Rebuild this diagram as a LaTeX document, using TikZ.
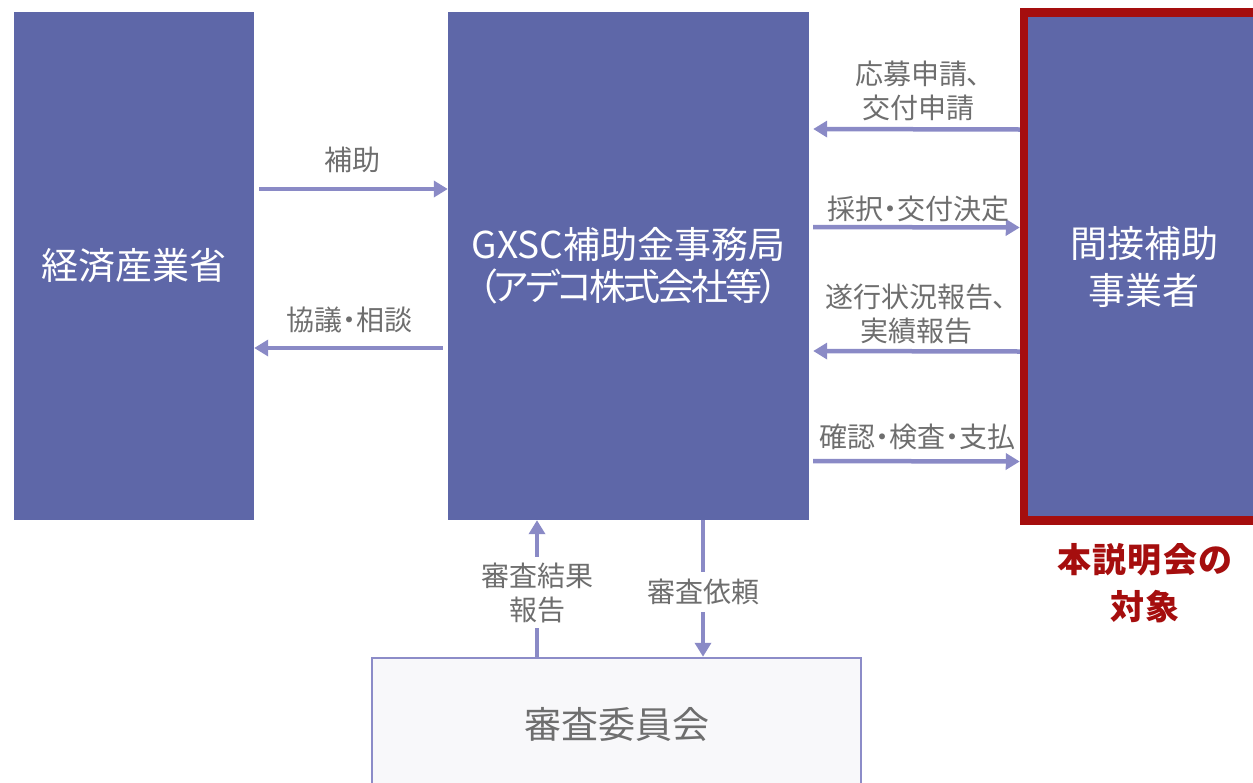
\documentclass[tikz,border=0pt]{standalone}
\usepackage{fontspec}
\setmainfont{Noto Sans CJK JP}
\usetikzlibrary{arrows.meta}
\definecolor{boxblue}{HTML}{5E67A8}
\definecolor{arrowc}{HTML}{8A8AC6}
\definecolor{redc}{HTML}{A50E0E}
\definecolor{labelc}{HTML}{6E6E6E}
\definecolor{comfill}{HTML}{F8F8FA}
\definecolor{comline}{HTML}{8C8CC8}
\begin{document}
\begin{tikzpicture}[x=1pt,y=-1pt,
  bluebox/.style={rectangle, fill=boxblue, text=white, inner sep=0pt, align=center,
    minimum width=240pt, minimum height=508pt},
  conn/.style={draw=arrowc, line width=4.5pt, -{Triangle[width=16pt,length=14pt]}},
  lab/.style={text=labelc, font=\fontsize{28}{34}\selectfont\addfontfeature{RawFeature=+palt},
    align=center, inner sep=0pt},
]
\clip (0,0) rectangle (1253,782);
% boxes
\node[bluebox, font=\fontsize{37}{43}\selectfont] (meti) at (134,266) {経済産業省};
\node[bluebox, minimum width=361pt, font=\fontsize{37}{42}\selectfont] (gxsc) at (628.5,266)
  {GXSC補助金事務局\\{\addfontfeature{RawFeature=+palt,LetterSpace=-8}（アデコ株式会社等）}};
\node[bluebox, draw=redc, line width=8.5pt, font=\fontsize{37}{47}\selectfont] (ind) at (1144,266.5)
  {間接補助\\事業者};
\node[rectangle, fill=comfill, draw=comline, line width=2.5pt, minimum width=489pt,
  minimum height=132pt, text=labelc, font=\fontsize{37}{42}\selectfont] (com) at (616.5,724) {審査委員会};
\node[text=redc, align=center, inner sep=0pt,
  font=\fontsize{34}{47}\selectfont\bfseries\addfontfeature{LetterSpace=4}] (target) at (1145,583.5)
  {本説明会の\\対象};
% connectors
\draw[conn, shorten <=5pt] ([yshift=77pt]meti.east) -- ([yshift=77pt]gxsc.west);
\draw[conn, shorten <=5pt] ([yshift=-82pt]gxsc.west) -- ([yshift=-82pt]meti.east);
\draw[conn, shorten >=4pt] ([yshift=137pt]ind.west) -- ([yshift=137pt]gxsc.east);
\draw[conn, shorten <=4pt] ([yshift=39pt]gxsc.east) -- ([yshift=39pt]ind.west);
\draw[conn, shorten >=4pt] ([yshift=-85pt]ind.west) -- ([yshift=-85pt]gxsc.east);
\draw[conn, shorten <=4pt] ([yshift=-195pt]gxsc.east) -- ([yshift=-195pt]ind.west);
\draw[conn] ([xshift=-79.5pt]com.north) -- ([xshift=-91.5pt]gxsc.south);
\draw[conn] ([xshift=74.5pt]gxsc.south) -- ([xshift=86.5pt]com.north);
% labels
\node[lab] (l1) at (352,160) {補助};
\node[lab] (l2) at (349,320) {協議・相談};
\node[lab] (l3) at (918,91) {応募申請、\\交付申請};
\node[lab] (l4) at (918,209) {採択・交付決定};
\node[lab] (l5) at (916,314) {遂行状況報告、\\実績報告};
\node[lab] (l6) at (917,437) {確認・検査・支払};
\node[lab, fill=white, minimum height=71pt, minimum width=60pt] (l7) at (537,592.5) {審査結果\\報告};
\node[lab, fill=white, minimum height=40pt] (l8) at (703,592) {審査依頼};
\end{tikzpicture}
\end{document}
